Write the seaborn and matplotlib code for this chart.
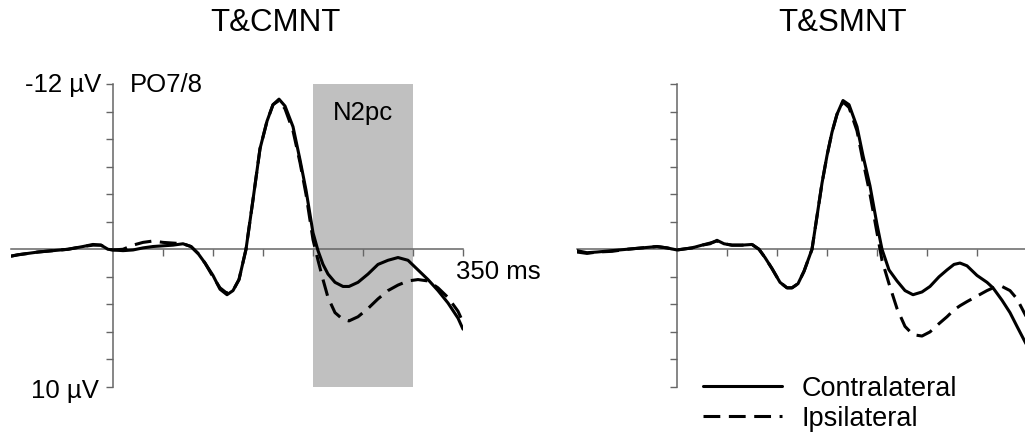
import pandas as pd
import matplotlib
matplotlib.use('Agg')
import matplotlib.pyplot as plt
import seaborn as sns

# time points (ms) and amplitudes (µV)
t_left = [-102, -95, -85, -75, -60, -45, -30, -20, -12, -5, 0, 10, 20, 30, 40, 50, 60, 70, 78, 85,
          92, 100, 107, 114, 120, 126, 133, 140, 147, 154, 160, 166, 172, 180, 187, 193, 200, 205,
          210, 215, 222, 230, 236, 245, 255, 265, 275, 285, 295, 305, 315, 325, 335, 345, 350]
left_contra = [0.5, 0.4, 0.3, 0.2, 0.1, 0.0, -0.2, -0.35, -0.3, 0.0, 0.05, 0.1, 0.05, -0.1, -0.2,
               -0.25, -0.3, -0.4, -0.2, 0.3, 1.0, 1.9, 2.9, 3.3, 3.0, 2.2, 0.0, -3.6, -7.3, -9.3,
               -10.5, -10.9, -10.4, -8.9, -6.5, -4.3, -1.2, 0.1, 1.1, 1.8, 2.4, 2.7, 2.7, 2.4, 1.8,
               1.1, 0.8, 0.6, 0.8, 1.5, 2.2, 3.0, 3.9, 5.0, 5.8]
left_ipsi = [0.5, 0.4, 0.3, 0.2, 0.1, 0.0, -0.2, -0.3, -0.3, 0.0, 0.05, 0.0, -0.3, -0.5, -0.6,
             -0.5, -0.45, -0.4, -0.2, 0.3, 1.0, 2.0, 2.8, 3.2, 3.0, 2.2, 0.0, -3.6, -7.3, -9.3,
             -10.5, -10.8, -10.2, -8.6, -6.3, -4.0, -0.7, 0.8, 2.2, 3.5, 4.6, 5.1, 5.2, 4.9, 4.3,
             3.6, 3.0, 2.6, 2.3, 2.2, 2.3, 2.8, 3.5, 4.5, 5.3]

t_right = [-100, -90, -80, -65, -50, -35, -20, -10, 0, 15, 25, 33, 40, 47, 55, 65, 75, 82, 88, 95,
           103, 110, 115, 121, 127, 131, 135, 140, 145, 150, 155, 160, 166, 172, 180, 186, 193, 200,
           205, 212, 220, 228, 236, 245, 253, 262, 270, 277, 283, 290, 300, 310, 316, 325, 333, 340, 350]
right_contra = [0.1, 0.25, 0.2, 0.1, 0.0, -0.1, -0.2, -0.1, 0.05, -0.1, -0.3, -0.4, -0.65, -0.4,
                -0.3, -0.3, -0.35, 0.0, 0.6, 1.4, 2.4, 2.8, 2.8, 2.5, 1.6, 0.8, 0.0, -2.4, -4.8,
                -6.8, -8.5, -9.8, -10.8, -10.5, -8.9, -6.8, -4.6, -1.8, 0.0, 1.5, 2.3, 3.0, 3.3,
                3.1, 2.7, 2.0, 1.5, 1.1, 1.0, 1.2, 1.9, 2.4, 2.8, 3.7, 4.6, 5.6, 7.0]
right_ipsi = [0.2, 0.3, 0.2, 0.15, 0.0, -0.1, -0.2, -0.1, 0.05, -0.1, -0.3, -0.45, -0.6, -0.4,
              -0.3, -0.3, -0.35, 0.0, 0.6, 1.4, 2.4, 2.8, 2.8, 2.5, 1.6, 0.8, 0.0, -2.4, -4.8,
              -6.8, -8.5, -9.8, -10.7, -10.3, -8.6, -6.4, -4.0, -1.2, 0.8, 2.5, 4.3, 5.6, 6.2,
              6.3, 6.0, 5.4, 4.9, 4.4, 4.1, 3.8, 3.4, 3.0, 2.8, 2.7, 3.0, 3.6, 5.0]

titles = ['T&CMNT', 'T&SMNT']
sides = ['Contralateral', 'Ipsilateral']
y_ticks = list(range(-12, 11, 2))
x_ticks = [50, 100, 150, 200, 250, 300, 350]
n2pc_window = (200, 300)


def long_df(t, contra, ipsi):
    return pd.DataFrame({
        'time': t + t,
        'uv': contra + ipsi,
        'side': [sides[0]] * len(t) + [sides[1]] * len(t),
    })


sns.set_style('white')
plt.rcParams['font.family'] = ['Liberation Sans', 'DejaVu Sans']
plt.rcParams['text.color'] = 'black'

fig = plt.figure(figsize=(10.25, 4.39), dpi=100)
W, H = 1025, 439
ax1 = fig.add_axes([11 / W, (H - 388) / H, 452 / W, 303 / H])
ax2 = fig.add_axes([577 / W, (H - 388) / H, 450 / W, 303 / H])

ax1.axvspan(*n2pc_window, color='#c0c0c0', lw=0, zorder=0)

panels = [(ax1, long_df(t_left, left_contra, left_ipsi), (-102, 350)),
          (ax2, long_df(t_right, right_contra, right_ipsi), (-100, 350))]

for ax, df, xlim in panels:
    sns.lineplot(data=df, x='time', y='uv', style='side', color='black', lw=2.2,
                 dashes={sides[0]: '', sides[1]: (5.5, 2.8)}, estimator=None,
                 legend=False, ax=ax, zorder=3)
    ax.set_xlim(*xlim)
    ax.set_ylim(10, -12)
    for s in ['top', 'right']:
        ax.spines[s].set_visible(False)
    ax.spines['left'].set_position(('data', 0))
    ax.spines['bottom'].set_position(('data', 0))
    for s in ['left', 'bottom']:
        ax.spines[s].set_color('#666666')
        ax.spines[s].set_linewidth(1.1)
    ax.set_yticks(y_ticks)
    ax.set_xticks(x_ticks)
    ax.set_xticklabels([])
    ax.set_yticklabels([])
    ax.tick_params(bottom=True, left=True, direction='out', length=5, width=1,
                   color='#666666')
    ax.set_xlabel('')
    ax.set_ylabel('')
    ax.set_facecolor('none')

lab = dict(fontsize=18.5, color='black')
ax1.text(-12, -12, '-12 µV', ha='right', va='center', **lab)
ax1.text(-14, 10.2, '10 µV', ha='right', va='center', **lab)
ax1.text(17, -12, 'PO7/8', ha='left', va='center', **lab)
ax1.text(343, 1.6, '350 ms', ha='left', va='center', **lab)
ax1.text(250, -10, 'N2pc', ha='center', va='center', **lab)

fig.text(275 / W, 1 - 23 / H, titles[0], ha='center', va='center', fontsize=22.5, color='black')
fig.text(843 / W, 1 - 23 / H, titles[1], ha='center', va='center', fontsize=22.5, color='black')

handles = ax2.get_lines()[:2]
leg = fig.legend(handles, sides, loc='upper left', bbox_to_anchor=(703 / W, 1 - 376 / H),
                 frameon=False, fontsize=19.5, handlelength=2.9, handletextpad=0.75,
                 labelspacing=0.15, borderpad=0, borderaxespad=0)
for txt in leg.get_texts():
    txt.set_color('black')

fig.savefig('out.png', dpi=100, facecolor='white')
